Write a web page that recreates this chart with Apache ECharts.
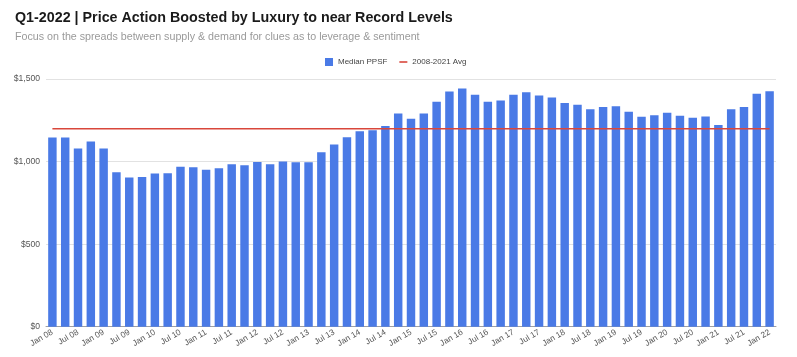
<!DOCTYPE html>
<html>
<head>
<meta charset="utf-8">
<script src="https://cdn.jsdelivr.net/npm/echarts@6/dist/echarts.min.js"></script>
<style>
html,body{margin:0;padding:0;background:#fff;}
#chart{width:797px;height:357px;}
</style>
</head>
<body>
<div id="chart"></div>
<script>
const quarters = [
  'Jan 08','Apr 08','Jul 08','Oct 08','Jan 09','Apr 09','Jul 09','Oct 09',
  'Jan 10','Apr 10','Jul 10','Oct 10','Jan 11','Apr 11','Jul 11','Oct 11',
  'Jan 12','Apr 12','Jul 12','Oct 12','Jan 13','Apr 13','Jul 13','Oct 13',
  'Jan 14','Apr 14','Jul 14','Oct 14','Jan 15','Apr 15','Jul 15','Oct 15',
  'Jan 16','Apr 16','Jul 16','Oct 16','Jan 17','Apr 17','Jul 17','Oct 17',
  'Jan 18','Apr 18','Jul 18','Oct 18','Jan 19','Apr 19','Jul 19','Oct 19',
  'Jan 20','Apr 20','Jul 20','Oct 20','Jan 21','Apr 21','Jul 21','Oct 21',
  'Jan 22'
];
const medianPPSF = [
  1145,1145,1079,1121,1079,936,903,907,
  927,929,968,966,950,960,984,978,
  998,984,1000,996,996,1057,1103,1148,
  1184,1190,1216,1291,1259,1291,1362,1424,
  1442,1404,1362,1370,1404,1420,1400,1388,
  1354,1344,1317,1331,1335,1301,1271,1281,
  1295,1277,1265,1273,1222,1317,1331,1410,
  1426
];
const avgValue = 1198;
const avgLine = quarters.map(() => avgValue);
const yTicks = [0, 500, 1000, 1500];

const chart = echarts.init(document.getElementById('chart'));
chart.setOption({
  animation: false,
  backgroundColor: '#ffffff',
  title: {
    text: 'Q1-2022 | Price Action Boosted by Luxury to near Record Levels',
    subtext: 'Focus on the spreads between supply & demand for clues as to leverage & sentiment',
    left: 10, top: 6,
    itemGap: 7,
    textStyle: {fontFamily: 'Liberation Sans, Arial, sans-serif', fontSize: 14.3, fontWeight: 'bold', color: '#1a1a1a'},
    subtextStyle: {fontFamily: 'Liberation Sans, Arial, sans-serif', fontSize: 10.7, color: '#9a9a9a'}
  },
  legend: {
    top: 53, left: 320,
    itemWidth: 8, itemHeight: 8, itemGap: 12,
    textStyle: {fontFamily: 'Liberation Sans, Arial, sans-serif', fontSize: 8, color: '#444'},
    data: [
      {name: 'Median PPSF', icon: 'rect'},
      {name: '2008-2021 Avg', icon: 'path://M0,0h20v4h-20z'}
    ]
  },
  grid: {left: 46, right: 21, top: 79, bottom: 30.3, containLabel: false},
  xAxis: {
    type: 'category',
    data: quarters,
    axisTick: {show: false},
    axisLine: {lineStyle: {color: '#a0a0a0', width: 1}},
    axisLabel: {
      interval: 1, rotate: 30, fontSize: 8.3, color: '#555',
      fontFamily: 'Liberation Sans, Arial, sans-serif', margin: 5
    }
  },
  yAxis: {
    type: 'value', min: 0, max: 1500, interval: 500,
    axisLine: {show: false}, axisTick: {show: false},
    splitLine: {lineStyle: {color: '#e2e2e2'}},
    axisLabel: {
      fontSize: 8.6, color: '#555', margin: 6,
      fontFamily: 'Liberation Sans, Arial, sans-serif',
      formatter: v => yTicks.includes(v) ? '$' + v.toLocaleString('en-US') : ''
    }
  },
  series: [
    {
      name: 'Median PPSF', type: 'bar', data: medianPPSF,
      barCategoryGap: '34%',
      itemStyle: {color: '#4a7ae6'}
    },
    {
      name: '2008-2021 Avg', type: 'line', data: avgLine,
      symbol: 'none', z: 3,
      lineStyle: {color: '#d9473b', width: 1.5},
      itemStyle: {color: '#d9473b'}
    }
  ]
});
</script>
</body>
</html>
